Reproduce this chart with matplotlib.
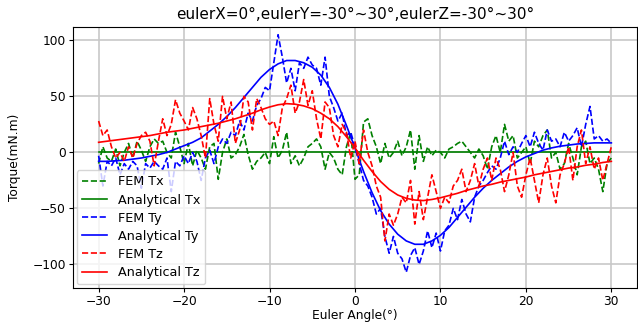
import matplotlib
matplotlib.use("Agg")
import matplotlib.pyplot as plt

# FEM samples every 0.5 degree, analytical every 1 degree
fem_angle = [i * 0.5 - 30 for i in range(121)]
ana_angle = list(range(-30, 31))

fem_tx = [-10, 5, -5, -8, 3, -12, 0, 8, -5, 10, 2, -8, 5, 12, 8, 10, 0, -5, 18, 5,
          -10, 8, -12, 2, -5, -15, 5, 8, -24, 0, 12, -5, -2, 5, 16, -2, -15, -8, -5, 0,
          -10, 14, -5, 2, 18, -10, -3, -12, -5, 5, 8, 12, 5, -15, 0, -5, -15, -20, 5, 18,
          -24, -20, 27, 30, 15, 5, -10, 8, -5, 0, 10, -3, 5, 20, -15, 15, -8, 5, -3, 2,
          0, -5, 3, 5, 8, 10, 5, 0, -5, 3, -3, -15, 5, 15, 0, 25, 10, 15, -5, 0,
          5, -10, 10, 5, 15, 20, -5, 0, -15, -10, 8, -5, -20, 5, 10, -10, -5, -15, -35, -10,
          -5]

fem_ty = [-3, -30, -8, -12, -5, -20, -10, -15, -8, -12, -32, -10, -14, -8, -12, -15, -5, -35, -8, -12,
          -3, -10, 0, -8, -25, -5, 2, -10, 5, 12, 8, 18, 15, 28, 20, 35, 28, 42, 48, 58,
          55, 80, 105, 85, 62, 75, 55, 80, 75, 85, 78, 75, 60, 85, 50, 40, 28, 35, 15, 18,
          5, -10, -25, -30, -40, -55, -50, -75, -90, -75, -90, -95, -107, -92, -85, -100, -88, -70, -85, -72,
          -88, -70, -65, -50, -60, -42, -55, -62, -40, -30, -25, -18, -12, -15, -5, 10, -2, 5, 0, 8,
          15, 5, 18, 8, 2, 20, 10, 12, 5, 18, 10, 15, 22, 5, 25, 41, 12, 15, 10, 12,
          8]

fem_tz = [28, 15, 20, 5, -5, 0, -8, 5, -5, 8, 15, 18, 10, -12, 10, 30, 15, 25, 47, 35,
          28, 20, 40, 30, 15, -5, 48, 25, 10, 50, 30, 45, 8, 20, 50, 45, 20, 48, 40, 30,
          25, 28, 15, 40, 48, 60, 35, 45, 65, 42, 55, 30, 12, 45, 40, 15, 5, 25, 18, -5,
          10, -10, 20, 0, -12, -30, -40, -79, -55, -65, -55, -40, -45, -25, -64, -35, -60, -40, -20, -35,
          -50, -40, -45, -30, -25, -15, -35, -25, -10, -30, -15, -5, -25, -5, -15, -35, -20, 0, -30, -40,
          -20, -5, -25, -45, -20, -5, -30, -45, -20, -10, 5, -25, 5, 20, -10, 5, -15, -5, -25, -10,
          5]

ana_tx = [0] * 61

ana_ty = [-8, -8, -7.5, -7, -6, -5, -3.5, -2, 0, 3, 6, 9, 13, 19, 25, 32, 40, 49, 58, 67,
          74, 79, 82, 82, 80, 76, 69, 58, 43, 24, 4, -17, -36, -52, -64, -73, -79, -82, -82, -79,
          -74, -67, -58, -49, -40, -32, -25, -19, -13, -8, -4, -1, 2, 4, 5.5, 6.5, 7.5, 8, 8.5, 8.5,
          8.5]

ana_tz = [9, 10, 11, 12, 13, 14, 15, 16.5, 18, 19, 20, 21.5, 23, 24.5, 26, 28, 30, 32.5, 35, 38,
          40.5, 42.5, 43.5, 43, 41.5, 39, 35, 30, 23, 14, 4, -7, -17, -26, -33, -38, -41, -42.5, -43, -42,
          -40.5, -38.5, -36.5, -34, -32, -30, -28.5, -26.5, -25, -23.5, -22, -20, -18.5, -17, -15.5, -14, -13, -11.5, -10.5, -9,
          -8]

FS = 8.8
LW = 1.2

fig = plt.figure(figsize=(6.38, 3.28), dpi=100)
ax = fig.add_axes([0.1144, 0.122, 0.884, 0.796])

ax.plot(fem_angle, fem_tx, 'g--', lw=LW, label='FEM Tx')
ax.plot(ana_angle, ana_tx, 'g-', lw=LW, label='Analytical Tx')
ax.plot(fem_angle, fem_ty, 'b--', lw=LW, label='FEM Ty')
ax.plot(ana_angle, ana_ty, 'b-', lw=LW, label='Analytical Ty')
ax.plot(fem_angle, fem_tz, 'r--', lw=LW, label='FEM Tz')
ax.plot(ana_angle, ana_tz, 'r-', lw=LW, label='Analytical Tz')

ax.set_xlim(-33, 33)
ax.set_ylim(-121, 112)
ax.set_xticks([-30, -20, -10, 0, 10, 20, 30])
ax.set_yticks([-100, -50, 0, 50, 100])
ax.tick_params(labelsize=FS, length=3, pad=2)
ax.grid(True, color='#c8c8c8', lw=1.2)
ax.set_axisbelow(True)

ax.set_title('eulerX=0°,eulerY=-30°~30°,eulerZ=-30°~30°', fontsize=11, pad=5.5)
ax.set_xlabel('Euler Angle(°)', fontsize=FS, labelpad=1)
ax.set_ylabel('Torque(mN.m)', fontsize=FS, labelpad=8)
ax.legend(loc='lower left', fontsize=9.2, borderaxespad=0.3, labelspacing=0.4)

fig.savefig('out.png', dpi=100)
